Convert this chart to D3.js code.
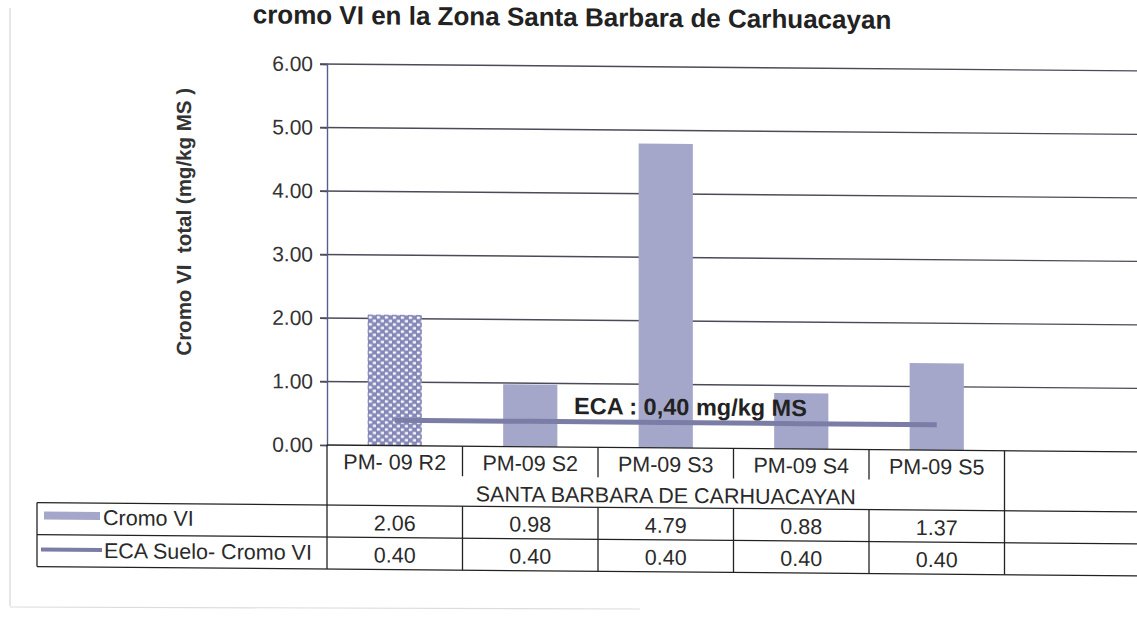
<!DOCTYPE html>
<html>
<head>
<meta charset="utf-8">
<script src="https://cdn.jsdelivr.net/npm/d3@7"></script>
<style>
  html, body { margin: 0; padding: 0; background: #fff; }
  svg { display: block; font-family: "Liberation Sans", Arial, sans-serif; }
</style>
</head>
<body>
<svg id="chart" width="1137" height="621"></svg>
<script>
// Sampling points and measured concentrations
const categories = ["PM- 09 R2", "PM-09 S2", "PM-09 S3", "PM-09 S4", "PM-09 S5", ""];
const groupLabel = "SANTA BARBARA DE CARHUACAYAN";
const cromoVI = [2.06, 0.98, 4.79, 0.88, 1.37];
const ecaSuelo = [0.40, 0.40, 0.40, 0.40, 0.40];
const yTicks = [0, 1, 2, 3, 4, 5, 6];
const seriesNames = ["Cromo VI", "ECA Suelo- Cromo VI"];
const ecaLabel = "ECA : 0,40 mg/kg MS";
const titleText = "cromo VI en la Zona Santa Barbara de Carhuacayan";
const yTitle = "Cromo VI  total (mg/kg MS )";

const svg = d3.select("#chart");

const barColor = "#a5a7ca";
const lineColor = "#7b7da6";
const gridColor = "#4b4b58";
const textColor = "#222";
const tableFont = 21.5;

// Pattern for the reference sample bar
const defs = svg.append("defs");
const pat = defs.append("pattern")
  .attr("id", "checker").attr("patternUnits", "userSpaceOnUse")
  .attr("width", 8).attr("height", 7);
pat.append("rect").attr("width", 8).attr("height", 7).attr("fill", "#8487b8");
pat.append("rect").attr("x", 0.8).attr("y", 0.8).attr("width", 3.2).attr("height", 2.4).attr("rx", 0.6).attr("fill", "#fff");
pat.append("rect").attr("x", 4.8).attr("y", 4.3).attr("width", 3.2).attr("height", 2.4).attr("rx", 0.6).attr("fill", "#fff");

// Faint page frame
svg.append("line").attr("x1", 10).attr("x2", 10).attr("y1", 8).attr("y2", 606)
  .attr("stroke", "#d6d6dc").attr("stroke-width", 1.2);
svg.append("line").attr("x1", 10).attr("x2", 640).attr("y1", 607).attr("y2", 609)
  .attr("stroke", "#dcdce0").attr("stroke-width", 1.2);

// Whole chart is slightly sheared
const shear = 0.0085;
const x0 = 327;
const g = svg.append("g")
  .attr("transform", `translate(0,${-shear * x0}) matrix(1,${shear},0,1,0,0)`);

const plotLeft = 327, plotRight = 1140, plotTop = 64, plotBottom = 445;

const x = d3.scaleBand().domain(categories).range([plotLeft, plotRight]);
const y = d3.scaleLinear().domain([0, 6]).range([plotBottom, plotTop]);
const barW = x.bandwidth() * 0.4;

// Title
g.append("text")
  .attr("x", 572).attr("y", 24)
  .attr("text-anchor", "middle")
  .attr("font-size", 26).attr("font-weight", "bold").attr("fill", textColor)
  .text(titleText);

// Gridlines
g.append("g").selectAll("line").data(yTicks.filter(d => d > 0)).join("line")
  .attr("x1", plotLeft - 7).attr("x2", plotRight)
  .attr("y1", d => y(d)).attr("y2", d => y(d))
  .attr("stroke", gridColor).attr("stroke-width", 1.4);

// Y axis
const yAxis = g.append("g")
  .attr("transform", `translate(${plotLeft},0)`)
  .call(d3.axisLeft(y).tickValues(yTicks).tickSize(7).tickPadding(7)
    .tickFormat(d => d.toFixed(2)));
yAxis.select(".domain").attr("stroke", "#5a5c8c").attr("stroke-width", 1.4);
yAxis.selectAll(".tick line").attr("stroke", gridColor).attr("stroke-width", 1.3);
yAxis.selectAll(".tick text")
  .attr("font-size", 21).attr("fill", "#333")
  .attr("font-family", "'Liberation Sans', Arial, sans-serif");

// Y axis title
g.append("text")
  .attr("transform", "translate(191,223) rotate(-90)")
  .attr("text-anchor", "middle")
  .style("white-space", "pre")
  .attr("font-size", 20.5).attr("font-weight", "bold").attr("fill", "#333")
  .text(yTitle);

// Bars
g.append("g").selectAll("rect").data(cromoVI).join("rect")
  .attr("x", (d, i) => x(categories[i]) + (x.bandwidth() - barW) / 2)
  .attr("width", barW)
  .attr("y", d => y(d))
  .attr("height", d => y(0) - y(d))
  .attr("fill", (d, i) => i === 0 ? "url(#checker)" : barColor);

// ECA limit line
const line = d3.line()
  .x((d, i) => x(categories[i]) + x.bandwidth() / 2)
  .y(d => y(d));
g.append("path").datum(ecaSuelo)
  .attr("d", line)
  .attr("fill", "none").attr("stroke", lineColor).attr("stroke-width", 5);

// ECA annotation
g.append("text")
  .attr("x", 574).attr("y", 412)
  .attr("font-size", 23.5).attr("font-weight", "bold").attr("fill", textColor)
  .text(ecaLabel);

// Data table below the axis
const tblLeft = 37;
const rowCat = plotBottom, rowGroup = 505, rowA = 537, rowB = 569;
const tbl = g.append("g").attr("stroke", "#222").attr("stroke-width", 1.3);

// x axis baseline
tbl.append("line").attr("x1", plotLeft).attr("x2", plotRight).attr("y1", rowCat).attr("y2", rowCat);
// left border of the category block, extends through data rows
tbl.append("line").attr("x1", plotLeft).attr("x2", plotLeft).attr("y1", rowCat).attr("y2", rowB);
// short ticks between sample names
tbl.selectAll(".ctick").data(categories.slice(1, 5)).join("line")
  .attr("x1", d => x(d)).attr("x2", d => x(d))
  .attr("y1", rowCat).attr("y2", rowCat + 30);
// group boundary
const groupEnd = x(categories[5]);
tbl.append("line").attr("x1", groupEnd).attr("x2", groupEnd).attr("y1", rowCat).attr("y2", rowB);
// horizontal rows
[rowGroup, rowA, rowB].forEach(yy => {
  tbl.append("line").attr("x1", tblLeft).attr("x2", plotRight).attr("y1", yy).attr("y2", yy);
});
tbl.append("line").attr("x1", tblLeft).attr("x2", tblLeft).attr("y1", rowGroup).attr("y2", rowB);
// value cell dividers
tbl.selectAll(".vtick").data(categories.slice(1, 5)).join("line")
  .attr("x1", d => x(d)).attr("x2", d => x(d))
  .attr("y1", rowGroup).attr("y2", rowB);

const tt = g.append("g").attr("font-size", tableFont).attr("fill", "#2a2a2a").attr("text-anchor", "middle");
tt.selectAll(".cat").data(categories).join("text")
  .attr("x", d => x(d) + x.bandwidth() / 2).attr("y", 469).text(d => d);
tt.append("text").attr("x", (plotLeft + groupEnd) / 2).attr("y", 500).text(groupLabel);
tt.selectAll(".va").data(cromoVI).join("text")
  .attr("x", (d, i) => x(categories[i]) + x.bandwidth() / 2).attr("y", 530)
  .text(d => d.toFixed(2));
tt.selectAll(".vb").data(ecaSuelo).join("text")
  .attr("x", (d, i) => x(categories[i]) + x.bandwidth() / 2).attr("y", 562)
  .text(d => d.toFixed(2));

// Legend keys inside the table
g.append("rect").attr("x", 44).attr("y", 514).attr("width", 56).attr("height", 8).attr("fill", barColor);
g.append("line").attr("x1", 41).attr("x2", 102).attr("y1", 552).attr("y2", 552)
  .attr("stroke", lineColor).attr("stroke-width", 4);
g.append("text").attr("x", 103).attr("y", 527).attr("font-size", tableFont).attr("fill", "#2a2a2a").text(seriesNames[0]);
g.append("text").attr("x", 104).attr("y", 560).attr("font-size", tableFont).attr("fill", "#2a2a2a").text(seriesNames[1]);
</script>
</body>
</html>
